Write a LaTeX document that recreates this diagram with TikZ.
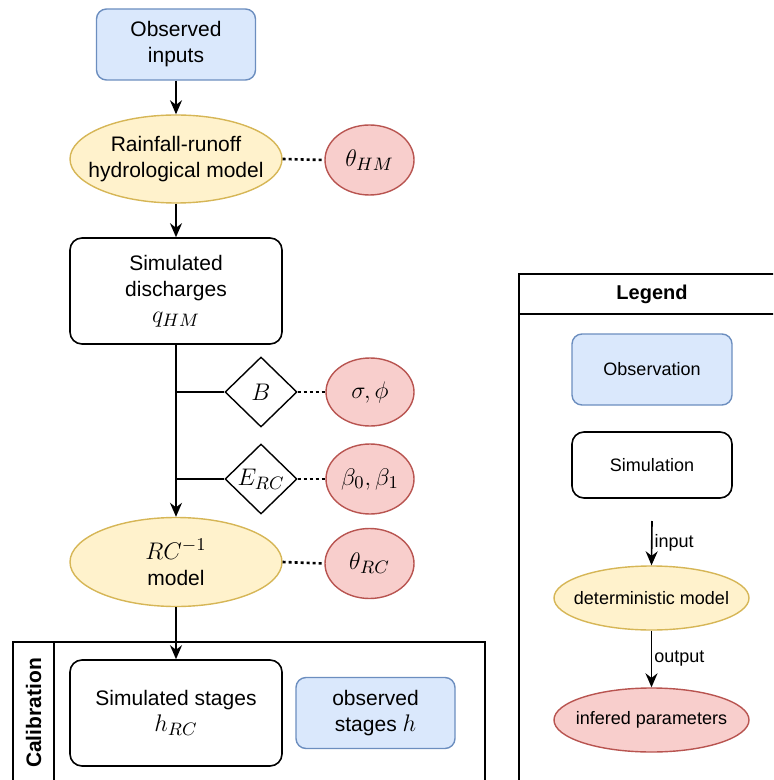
\documentclass[tikz,border=0pt]{standalone}
\usepackage{fontspec}
\setmainfont{Liberation Sans}
\usetikzlibrary{shapes.geometric,arrows.meta}

\definecolor{obsfill}{HTML}{DAE8FC}
\definecolor{obsdraw}{HTML}{6C8EBF}
\definecolor{modfill}{HTML}{FFF2CC}
\definecolor{moddraw}{HTML}{D6B656}
\definecolor{parfill}{HTML}{F8CECC}
\definecolor{pardraw}{HTML}{B85450}

\newcommand{\mathsz}{\fontsize{13}{13}\selectfont}

\tikzset{
    obsbox/.style={draw=obsdraw, fill=obsfill, rounded corners=5pt, line width=0.7pt,
        minimum width=79.5pt, minimum height=35.5pt, align=center, inner sep=0pt},
    simbox/.style={draw, rounded corners=6pt, line width=0.8pt,
        minimum width=106pt, minimum height=53pt, align=center, inner sep=0pt},
    modell/.style={ellipse, draw=moddraw, fill=modfill, line width=0.7pt,
        minimum width=106pt, minimum height=44pt, inner sep=0pt},
    parell/.style={ellipse, draw=pardraw, fill=parfill, line width=0.7pt,
        minimum width=44.5pt, minimum height=35pt, align=center, inner sep=0pt},
    errdiam/.style={diamond, draw, line width=0.7pt,
        minimum width=36pt, minimum height=35pt, inner sep=0pt},
    inside/.style={label={[align=center]center:#1}},
    flow/.style={line width=0.8pt, -{Stealth[length=7pt,width=6pt]}},
    link/.style={line width=1.3pt, dash pattern=on 1.5pt off 1.5pt},
    txt/.style={font=\fontsize{10.5}{13}\selectfont},
    legtxt/.style={font=\fontsize{9}{11}\selectfont},
}

\begin{document}
\begin{tikzpicture}[x=0.5pt, y=-0.5pt, txt]
    \useasboundingbox (0,0) rectangle (773,780);
    \clip (0,0) rectangle (773,780);

    % Main chain
    \node[obsbox] (obs) at (176,44.5) {Observed\\inputs};
    \node[modell, inside={Rainfall-runoff\\hydrological model}] (hm) at (176,159) {};
    \node[parell] (thhm) at (369.5,160) {\mathsz$\theta_{HM}$};
    \node[simbox] (simq) at (176,291) {Simulated\\discharges\\\mathsz$q_{HM}$};

    % Error models
    \node[errdiam] (bias) at (261,392) {\mathsz$B$};
    \node[parell, minimum width=44pt, minimum height=34pt] (sigphi) at (370,392) {\mathsz$\sigma,\phi$};
    \node[errdiam] (erc) at (261,479) {\mathsz$E_{RC}$};
    \node[parell, minimum width=44pt] (beta) at (370,479) {\mathsz$\beta_0,\beta_1$};

    % Rating curve
    \node[modell, minimum height=44.5pt, inside={\mathsz$RC^{-1}$\\model}] (rc) at (176,562) {};
    \node[parell] (thrc) at (369.5,563.5) {\mathsz$\theta_{RC}$};

    % Calibration pool
    \draw[line width=0.7pt] (13,642) rectangle (485,800);
    \draw[line width=0.7pt] (54,642) -- (54,800);
    \node[rotate=90, font=\fontsize{10.5}{13}\selectfont\bfseries] (callab) at (33.5,713) {Calibration};
    \node[simbox] (simh) at (176,713) {Simulated stages\\\mathsz$h_{RC}$};
    \node[obsbox] (obsh) at (375.5,713) {observed\\stages \mathsz$h$};

    % Connectors
    \draw[flow] (obs) -- (hm);
    \draw[flow] (hm) -- (simq);
    \draw[flow] (simq) -- (rc);
    \draw[flow] (rc) -- (simh);
    \draw[line width=0.7pt] (bias.west) -- (bias.west -| simq.south);
    \draw[line width=0.7pt] (erc.west) -- (erc.west -| simq.south);
    \draw[link] (hm.east) -- (thhm.west);
    \draw[link] (bias.east) -- (sigphi.west);
    \draw[link] (erc.east) -- (beta.west);
    \draw[link] (rc.east) -- (thrc.west);

    % Legend
    \draw[line width=0.7pt] (519,274) rectangle (785,800);
    \draw[line width=0.7pt] (519,314) -- (785,314);
    \node[font=\fontsize{10}{12}\selectfont\bfseries] (leglab) at (652,294) {Legend};
    \node[obsbox, legtxt, minimum width=80pt] (legobs) at (652,369.5) {Observation};
    \node[simbox, legtxt, minimum width=80pt, minimum height=33pt] (legsim) at (652,465) {Simulation};
    \coordinate (legin) at (652,521);
    \node[modell, minimum width=97.5pt, minimum height=32pt,
        inside={\fontsize{9}{11}\selectfont deterministic model}] (legdet) at (651.5,598) {};
    \node[modell, draw=pardraw, fill=parfill, minimum width=97.5pt, minimum height=32pt,
        inside={\fontsize{9}{11}\selectfont infered parameters}] (legpar) at (651.5,720) {};
    \draw[flow] (legin) -- (legdet.north) node[midway, right, legtxt, inner sep=1pt] {input};
    \draw[flow] (legdet.south) -- (legpar.north) node[midway, right, legtxt, inner sep=1pt] {output};
\end{tikzpicture}
\end{document}
